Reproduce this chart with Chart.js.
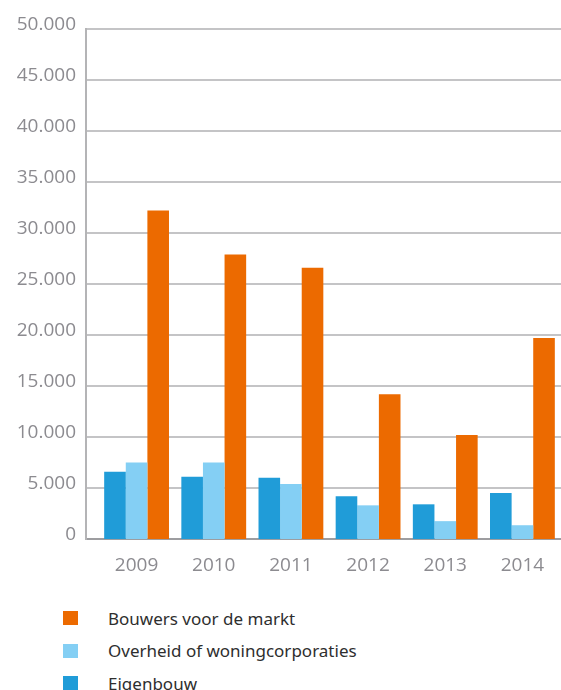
<!DOCTYPE html>
<html lang="nl">
<head>
  <meta charset="UTF-8" />
  <title>Woningbouw per opdrachtgever</title>
  <style>
    body {
      margin: 0;
      background: #fff;
      font-family: "Noto Sans", sans-serif;
    }

    .chart-box {
      position: relative;
      width: 561px;
      height: 575px;
    }

    .legend {
      list-style: none;
      margin: 0;
      padding: 0;
      position: absolute;
      top: 602px;
      left: 63px;
    }

    .legend li {
      display: flex;
      align-items: center;
      height: 32.5px;
      font-size: 17px;
      color: #2e2e2e;
    }

    .legend .box {
      display: inline-block;
      width: 15px;
      height: 14px;
      margin-right: 30px;
    }
  </style>
</head>
<body>
  <div class="chart-box">
    <canvas id="bouwChart"></canvas>
  </div>
  <ul class="legend" id="legend"></ul>

  <script src="https://cdn.jsdelivr.net/npm/chart.js"></script>
  <script>
    const years = ["2009", "2010", "2011", "2012", "2013", "2014"];
    const eigenbouw = [6600, 6100, 6000, 4200, 3400, 4500];
    const overheid = [7500, 7500, 5400, 3300, 1750, 1350];
    const bouwers = [32200, 27900, 26600, 14200, 10200, 19700];
    const yTicks = [0, 5000, 10000, 15000, 20000, 25000, 30000, 35000, 40000, 45000, 50000];

    const seriesNames = ["Eigenbouw", "Overheid of woningcorporaties", "Bouwers voor de markt"];
    const seriesColors = ["#209cd8", "#84cff4", "#ec6a00"];

    const tickColor = "#8c8b90";
    const tickFont = { family: "Open Sans", size: 19 };

    function formatNumber(v) {
      if (v === 0) return "0";
      return (v / 1000) + ".000";
    }

    const datasets = [eigenbouw, overheid, bouwers].map((values, i) => ({
      label: seriesNames[i],
      data: values,
      backgroundColor: seriesColors[i],
      categoryPercentage: 0.84,
      barPercentage: 1.0
    }));

    new Chart(document.getElementById("bouwChart"), {
      type: "bar",
      data: { labels: years, datasets: datasets },
      options: {
        responsive: true,
        maintainAspectRatio: false,
        animation: false,
        layout: { padding: { top: 29, right: 0, left: 0, bottom: 0 } },
        plugins: {
          legend: { display: false },
          tooltip: { enabled: false }
        },
        scales: {
          x: {
            grid: { display: false },
            border: { display: true, color: "#9d9da0", width: 2 },
            ticks: { color: tickColor, font: tickFont, padding: 7 },
            afterFit: (scale) => { scale.height = 36; }
          },
          // outer axis: labels and the vertical axis line
          y: {
            position: "left",
            weight: 1,
            min: 0,
            max: 50000,
            afterBuildTicks: (scale) => { scale.ticks = yTicks.map(v => ({ value: v })); },
            ticks: {
              color: tickColor,
              font: tickFont,
              padding: 10,
              labelOffset: -4,
              callback: (v) => formatNumber(v)
            },
            grid: { display: false, drawTicks: false },
            border: { display: true, color: "#b4b4b6", width: 2 },
            afterFit: (scale) => { scale.width = 86; }
          },
          // inner axis: only grid lines, which reach back to the axis line
          y2: {
            position: "left",
            weight: 0,
            min: 0,
            max: 50000,
            afterBuildTicks: (scale) => { scale.ticks = yTicks.map(v => ({ value: v })); },
            ticks: { display: false },
            grid: {
              color: (ctx) => (ctx.tick && ctx.tick.value === 0) ? "#9d9da0" : "#c4c4c6",
              lineWidth: 2,
              drawTicks: true,
              tickLength: 12
            },
            border: { display: false },
            afterFit: (scale) => { scale.width = 12; }
          }
        }
      }
    });

    // legend in the same order as the reference: last series first
    const legend = document.getElementById("legend");
    for (let i = seriesNames.length - 1; i >= 0; i--) {
      const li = document.createElement("li");
      li.innerHTML = '<span class="box" style="background:' + seriesColors[i] + '"></span>' + seriesNames[i];
      legend.appendChild(li);
    }
  </script>
</body>
</html>
